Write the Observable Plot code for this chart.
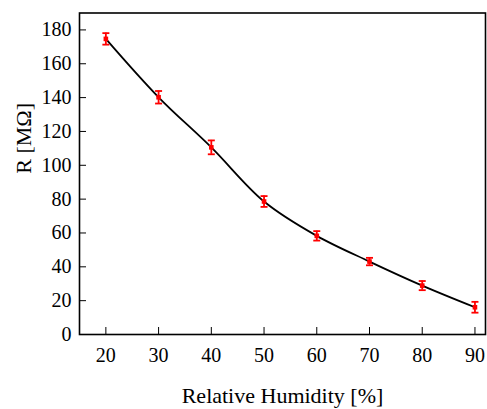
<!DOCTYPE html>
<html><head><meta charset="utf-8">
<script src="https://cdn.jsdelivr.net/npm/d3@7"></script>
<script src="https://cdn.jsdelivr.net/npm/@observablehq/plot@0.6"></script>
<style>body{margin:0;background:#fff}</style>
</head><body><div id="chart"></div>
<script>
const humidity = [20, 30, 40, 50, 60, 70, 80, 90];
const resistance = [174.7, 140.2, 110.6, 78.6, 58.3, 43.1, 28.9, 16.1];
const errors = [3.4, 3.7, 4.1, 3.2, 2.8, 2.2, 2.7, 3.2];
const xTicks = [20, 30, 40, 50, 60, 70, 80, 90];
const yTicks = [0, 20, 40, 60, 80, 100, 120, 140, 160, 180];
const xLabel = "Relative Humidity [%]";
const yLabel = "R [MΩ]";

const FONT = "'Liberation Serif', 'Times New Roman', Tinos, 'DejaVu Serif', serif";
const data = humidity.map((h, i) => ({x: h, y: resistance[i], lo: resistance[i] - errors[i], hi: resistance[i] + errors[i]}));
const cap = {draw(ctx, size) { ctx.moveTo(-3.5, 0); ctx.lineTo(3.5, 0); }};

const chart = Plot.plot({
  width: 487, height: 409,
  marginLeft: 79, marginRight: 2, marginTop: 12.5, marginBottom: 75,
  style: {fontFamily: FONT, fontSize: "20px", color: "#000", background: "#fff"},
  marks: [
    Plot.frame({stroke: "#000", strokeWidth: 1.6}),
    Plot.axisX(xTicks, {tickSize: -7, tickPadding: 20, label: null, tickFormat: d => d, fontFamily: FONT, fontSize: 20}),
    Plot.axisY(yTicks, {tickSize: -7, tickPadding: 15, label: null, tickFormat: d => d, fontFamily: FONT, fontSize: 20}),
    Plot.line(data, {x: "x", y: "y", curve: "catmull-rom", stroke: "#000", strokeWidth: 1.8}),
    Plot.ruleX(data, {x: "x", y1: "lo", y2: "hi", stroke: "red", strokeWidth: 1.8}),
    Plot.dot(data, {x: "x", y: "lo", symbol: cap, stroke: "red", strokeWidth: 1.8, r: 3}),
    Plot.dot(data, {x: "x", y: "hi", symbol: cap, stroke: "red", strokeWidth: 1.8, r: 3}),
    Plot.dot(data, {x: "x", y: "y", symbol: "square", fill: "red", stroke: "none", r: 2.6}),
    Plot.text([xLabel], {frameAnchor: "bottom", text: d => d, dy: 68, fontSize: 22, fontFamily: FONT, fill: "#000"}),
    Plot.text([yLabel], {frameAnchor: "left", text: d => d, dx: -56, rotate: -90, fontSize: 22, fontFamily: FONT, fill: "#000"})
  ],
  x: {domain: [15, 92]},
  y: {domain: [0, 190]}
});
document.getElementById("chart").appendChild(chart);
</script></body></html>
